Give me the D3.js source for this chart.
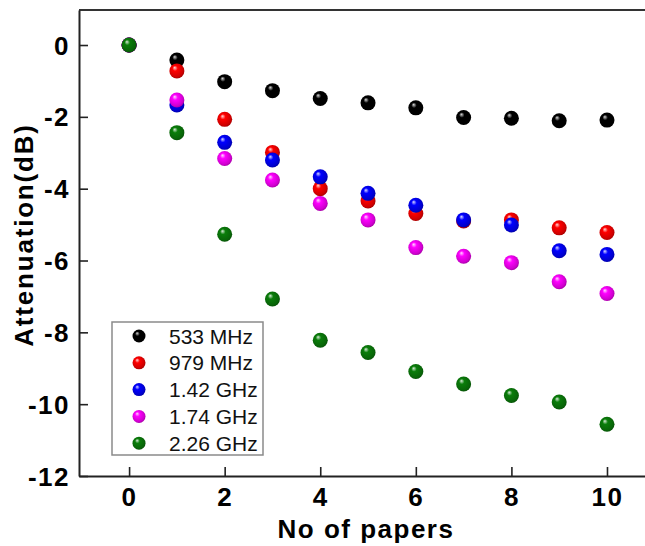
<!DOCTYPE html>
<html>
<head>
<meta charset="utf-8">
<script src="https://cdn.jsdelivr.net/npm/d3@7"></script>
<style>
  html, body { margin: 0; padding: 0; background: #fff; }
  svg { display: block; }
  text { font-family: "Liberation Sans", Arial, Helvetica, sans-serif; }
</style>
</head>
<body>
<svg id="chart" width="645" height="546"></svg>
<script>
// ---- data ----
const papers = [0, 1, 2, 3, 4, 5, 6, 7, 8, 9, 10];
const seriesNames = ["533 MHz", "979 MHz", "1.42 GHz", "1.74 GHz", "2.26 GHz"];
const seriesColors = ["#000000", "#ff0000", "#0000ff", "#ff00ff", "#0a7d0a"];
const att533 = [0, -0.42, -1.02, -1.27, -1.49, -1.61, -1.75, -2.02, -2.04, -2.11, -2.09];
const att979 = [0, -0.72, -2.07, -2.99, -4.00, -4.34, -4.69, -4.90, -4.87, -5.09, -5.22];
const att142 = [0, -1.67, -2.71, -3.20, -3.67, -4.13, -4.46, -4.87, -5.01, -5.73, -5.83];
const att174 = [0, -1.53, -3.16, -3.76, -4.41, -4.87, -5.64, -5.88, -6.06, -6.59, -6.92];
const att226 = [0, -2.44, -5.27, -7.07, -8.22, -8.56, -9.09, -9.44, -9.76, -9.94, -10.56];
const xTicks = [0, 2, 4, 6, 8, 10];
const yTicks = [0, -2, -4, -6, -8, -10, -12];
const xTitle = "No of papers";
const yTitle = "Attenuation(dB)";

const allSeries = [att533, att979, att142, att174, att226];

// ---- layout ----
const svg = d3.select("#chart");
const pLeft = 79, pTop = 10, pBottom = 476, pRight = 650;

const x = d3.scaleLinear().domain([-1.048, 10.9]).range([pLeft, pRight]);
const y = d3.scaleLinear().domain([-12, 0.975]).range([pBottom, pTop]);

// gradients for glossy spheres
const defs = svg.append("defs");
seriesColors.forEach((c, i) => {
  const g = defs.append("radialGradient")
    .attr("id", "sph" + i)
    .attr("cx", "45%").attr("cy", "45%").attr("r", "60%")
    .attr("fx", "35%").attr("fy", "28%");
  const base = d3.color(c);
  const hi = d3.interpolateRgb(c, "#ffffff")(0.85);
  g.append("stop").attr("offset", "0%").attr("stop-color", hi);
  g.append("stop").attr("offset", "30%").attr("stop-color", c);
  g.append("stop").attr("offset", "80%").attr("stop-color", base.darker(0.6).toString());
  g.append("stop").attr("offset", "100%").attr("stop-color", base.darker(1.4).toString());
});

// frame: top line
svg.append("line")
  .attr("x1", pLeft).attr("x2", pRight).attr("y1", pTop).attr("y2", pTop)
  .attr("stroke", "#333").attr("stroke-width", 2);

// axes
const fmt = d => String(d);
const xAxis = d3.axisBottom(x).tickValues(xTicks).tickFormat(fmt).tickSizeInner(-9).tickSizeOuter(0).tickPadding(14);
const yAxis = d3.axisLeft(y).tickValues(yTicks).tickFormat(fmt).tickSizeInner(-9).tickSizeOuter(0).tickPadding(9);

const gx = svg.append("g").attr("transform", `translate(0,${pBottom})`).call(xAxis);
const gy = svg.append("g").attr("transform", `translate(${pLeft},0)`).call(yAxis);

[gx, gy].forEach(g => {
  g.select(".domain").attr("stroke", "#222").attr("stroke-width", 2);
  g.selectAll(".tick line").attr("stroke", "#222").attr("stroke-width", 1.6);
  g.selectAll(".tick text")
    .attr("fill", "#000")
    .style("font-family", '"Liberation Sans", Arial, sans-serif')
    .style("font-weight", "bold")
    .style("font-size", "26px")
    .style("letter-spacing", "1.5px");
});
gx.selectAll(".tick text").attr("dy", "0.71em").attr("y", 12);
gy.selectAll(".tick text").attr("x", -9).attr("dy", "0.35em");

// axis titles
svg.append("text")
  .attr("x", 366).attr("y", 538)
  .attr("text-anchor", "middle")
  .style("font-weight", "bold").style("font-size", "26px").style("letter-spacing", "1.5px")
  .text(xTitle);

svg.append("text")
  .attr("transform", "translate(33,235) rotate(-90)")
  .attr("text-anchor", "middle")
  .style("font-weight", "bold").style("font-size", "26px").style("letter-spacing", "1.8px")
  .text(yTitle);

// points (green drawn last so it covers the shared origin)
const r = 7.5;
allSeries.forEach((vals, si) => {
  svg.append("g").selectAll("circle")
    .data(vals.map((v, i) => ({ x: papers[i], y: v })))
    .join("circle")
    .attr("cx", d => x(d.x))
    .attr("cy", d => y(d.y))
    .attr("r", r)
    .attr("fill", `url(#sph${si})`);
});

// legend
const lg = svg.append("g");
lg.append("rect")
  .attr("x", 112).attr("y", 322).attr("width", 151).attr("height", 133)
  .attr("fill", "#fff").attr("stroke", "#8a8a8a").attr("stroke-width", 1.5);
seriesNames.forEach((name, i) => {
  const cy = 336 + i * 26.8;
  lg.append("circle").attr("cx", 139).attr("cy", cy).attr("r", 6.5)
    .attr("fill", `url(#sph${i})`);
  lg.append("text").attr("x", 169).attr("y", cy).attr("dy", "0.36em")
    .style("font-size", "21px").attr("fill", "#111")
    .text(name);
});
</script>
</body>
</html>
